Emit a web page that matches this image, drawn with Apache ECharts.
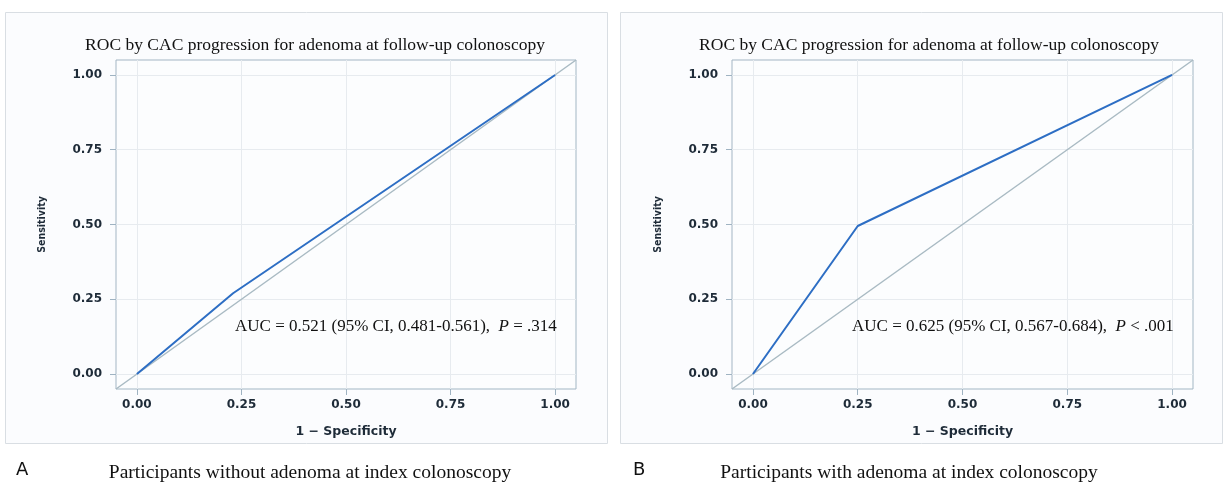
<!DOCTYPE html>
<html><head><meta charset="utf-8">
<script src="https://cdn.jsdelivr.net/npm/echarts@6/dist/echarts.min.js"></script>
<style>html,body{margin:0;padding:0;background:#fff}#c{width:1226px;height:482px}</style>
</head><body><div id="c"></div>
<script>
// ---- data ----
const tickValues = [0, 0.25, 0.5, 0.75, 1];
const axisRange = [-0.05, 1.05];
const refX = [-0.05, 1.05];
const refY = [-0.05, 1.05];
const rocA_x = [0, 0.23, 1];
const rocA_y = [0, 0.27, 1];
const rocB_x = [0, 0.25, 1];
const rocB_y = [0, 0.495, 1];
const chartTitle = 'ROC by CAC progression for adenoma at follow-up colonoscopy';
const aucA = ['AUC = 0.521 (95% CI, 0.481-0.561),  ', 'P', ' = .314'];
const aucB = ['AUC = 0.625 (95% CI, 0.567-0.684),  ', 'P', ' < .001'];
const captionA = 'Participants without adenoma at index colonoscopy';
const captionB = 'Participants with adenoma at index colonoscopy';
const xName = '1 \u2212 Specificity';
const yName = 'Sensitivity';

const pair = (xs, ys) => xs.map((x, i) => [x, ys[i]]);
const tickCol = '#1e2b38';
const sans = '"DejaVu Sans", sans-serif';
const sansC = '"DejaVu Sans Condensed", "DejaVu Sans", sans-serif';
const serif = '"Liberation Serif", serif';

function mkX(idx) {
  return {
    type: 'value', gridIndex: idx, min: axisRange[0], max: axisRange[1],
    name: xName, nameLocation: 'middle', nameGap: 36,
    nameTextStyle: {fontFamily: sans, fontWeight: 'bold', fontSize: 12.5, color: tickCol},
    axisLine: {show: false, onZero: false},
    axisTick: {show: true, length: 6, customValues: tickValues, lineStyle: {color: '#9fb3c2'}},
    axisLabel: {customValues: tickValues, margin: 10, fontFamily: sans, fontWeight: 'bold', fontSize: 12, color: tickCol,
      formatter: v => v.toFixed(2)},
    splitLine: {show: true, lineStyle: {color: '#e7ebef', width: 1}}
  };
}
function mkY(idx) {
  return {
    type: 'value', gridIndex: idx, min: axisRange[0], max: axisRange[1],
    name: yName, nameLocation: 'middle', nameGap: 68,
    nameTextStyle: {fontFamily: sansC, fontWeight: 'bold', fontSize: 10.5, color: tickCol},
    axisLine: {show: false, onZero: false},
    axisTick: {show: true, length: 6, customValues: tickValues, lineStyle: {color: '#9fb3c2'}},
    axisLabel: {customValues: tickValues, margin: 14, fontFamily: sans, fontWeight: 'bold', fontSize: 12, color: tickCol,
      formatter: v => v.toFixed(2)},
    splitLine: {show: true, lineStyle: {color: '#e7ebef', width: 1}}
  };
}
function refSeries(idx) {
  return {type: 'line', xAxisIndex: idx, yAxisIndex: idx, data: pair(refX, refY), showSymbol: false,
    lineStyle: {color: '#a9bac3', width: 1.5}, silent: true, z: 2};
}
function rocSeries(idx, xs, ys) {
  return {type: 'line', xAxisIndex: idx, yAxisIndex: idx, data: pair(xs, ys), showSymbol: false,
    lineStyle: {color: '#2d6ec4', width: 2}, silent: true, z: 3};
}
function aucTitle(parts, left) {
  return {text: '{n|' + parts[0] + '}{i|' + parts[1] + '}{n|' + parts[2] + '}', left: left, top: 313,
    textStyle: {fontWeight: 'normal', rich: {
      n: {fontFamily: serif, fontSize: 17, fontWeight: 'normal', color: '#111'},
      i: {fontFamily: serif, fontSize: 17, fontWeight: 'normal', fontStyle: 'italic', color: '#111'}}}};
}

const chart = echarts.init(document.getElementById('c'), null, {renderer: 'canvas'});
chart.setOption({
  animation: false,
  backgroundColor: '#fff',
  graphic: [
    {type: 'rect', shape: {x: 5.5, y: 12.5, width: 602, height: 431}, style: {fill: '#fbfcfe', stroke: '#d9dee3', lineWidth: 1}, z: -10},
    {type: 'rect', shape: {x: 620.5, y: 12.5, width: 602, height: 431}, style: {fill: '#fbfcfe', stroke: '#d9dee3', lineWidth: 1}, z: -10}
  ],
  title: [
    {text: chartTitle, left: 310, top: 31, textAlign: 'center', textStyle: {fontFamily: serif, fontSize: 17.5, fontWeight: 'normal', color: '#111'}},
    {text: chartTitle, left: 924, top: 31, textAlign: 'center', textStyle: {fontFamily: serif, fontSize: 17.5, fontWeight: 'normal', color: '#111'}},
    aucTitle(aucA, 230),
    aucTitle(aucB, 847),
    {text: 'A', left: 11, top: 456, textStyle: {fontFamily: sans, fontSize: 18, fontWeight: 'normal', color: '#111'}},
    {text: 'B', left: 628, top: 456, textStyle: {fontFamily: sans, fontSize: 18, fontWeight: 'normal', color: '#111'}},
    {text: captionA, left: 305, top: 458, textAlign: 'center', textStyle: {fontFamily: serif, fontSize: 19.5, fontWeight: 'normal', color: '#111'}},
    {text: captionB, left: 904, top: 458, textAlign: 'center', textStyle: {fontFamily: serif, fontSize: 19.5, fontWeight: 'normal', color: '#111'}}
  ],
  grid: [
    {left: 116, top: 60, width: 460, height: 329, show: true, backgroundColor: '#fcfdfe', borderColor: '#a3b6c4', borderWidth: 1},
    {left: 732, top: 60, width: 461, height: 329, show: true, backgroundColor: '#fcfdfe', borderColor: '#a3b6c4', borderWidth: 1}
  ],
  xAxis: [mkX(0), mkX(1)],
  yAxis: [mkY(0), mkY(1)],
  series: [
    refSeries(0), rocSeries(0, rocA_x, rocA_y),
    refSeries(1), rocSeries(1, rocB_x, rocB_y)
  ]
});
</script></body></html>
